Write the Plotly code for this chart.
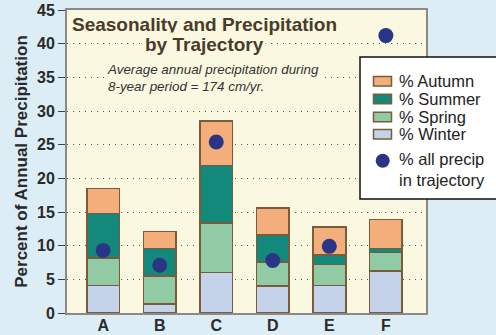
import plotly.graph_objects as go

categories = ["A", "B", "C", "D", "E", "F"]
winter = [4.1, 1.35, 6.0, 4.0, 4.1, 6.2]
spring = [4.1, 4.15, 7.4, 3.6, 3.1, 2.8]
summer = [6.6, 4.1, 8.5, 4.0, 1.4, 0.6]
autumn = [3.7, 2.5, 6.6, 4.0, 4.2, 4.3]
all_precip = [9.3, 7.1, 25.4, 7.8, 9.9, 41.2]

xpos = list(range(len(categories)))
outline = "#7a5c3a"
dot_color = "#2b3586"
series = [
    ("% Winter", winter, "#c4d2ea"),
    ("% Spring", spring, "#90cba5"),
    ("% Summer", summer, "#13897b"),
    ("% Autumn", autumn, "#f4ae7b"),
]

# plot-area geometry in pixels (layout only)
W, H = 496, 335
L, R, T, B = 67, 70, 10, 22
PW, PH = W - L - R, H - T - B


def px_x(px):
    return (px - L) / PW


def px_y(py):
    return (H - B - py) / PH


fig = go.Figure()
for name, vals, col in series:
    fig.add_trace(go.Bar(
        x=xpos, y=vals, name=name, width=0.58,
        marker=dict(color=col, line=dict(color=outline, width=1.6)),
    ))

fig.add_trace(go.Scatter(
    x=xpos, y=all_precip, mode="markers",
    name="% all precip in trajectory",
    marker=dict(color=dot_color, size=15, line=dict(width=0)),
))

cream = "#fbf8e1"
font_fam = "Liberation Sans, Arial, sans-serif"

shapes = []
annotations = [
    dict(text="<b>Seasonality and Precipitation</b>", xref="paper", yref="paper",
         x=px_x(204), y=px_y(24), xanchor="center", yanchor="middle",
         showarrow=False, font=dict(size=19, color="#4a3b2b")),
    dict(text="<b>by Trajectory</b>", xref="paper", yref="paper",
         x=px_x(204), y=px_y(44), xanchor="center", yanchor="middle",
         showarrow=False, font=dict(size=19, color="#4a3b2b"),
         bgcolor=cream, borderpad=1),
    dict(text="<i>Average annual precipitation during<br>8-year period = 174 cm/yr.</i>",
         xref="paper", yref="paper", x=px_x(104), y=px_y(78),
         xanchor="left", yanchor="middle", align="left",
         showarrow=False, font=dict(size=13.4, color="#333333"),
         bgcolor=cream, borderpad=2),
]

# hand-built legend (box, swatches, labels)
shapes.append(dict(type="rect", xref="paper", yref="paper",
                   x0=px_x(360), x1=px_x(520), y0=px_y(199), y1=px_y(57),
                   fillcolor="white", line=dict(color="#111111", width=1.5), layer="above"))
legend_rows = [series[3], series[2], series[1], series[0]]
row_y = [81.3, 99, 117, 134.3]
for (name, _, col), yy in zip(legend_rows, row_y):
    shapes.append(dict(type="rect", xref="paper", yref="paper",
                       x0=px_x(373.5), x1=px_x(391.5), y0=px_y(yy + 4.8), y1=px_y(yy - 4.8),
                       fillcolor=col, line=dict(color=outline, width=1.5), layer="above"))
    annotations.append(dict(text=name, xref="paper", yref="paper",
                            x=px_x(397), y=px_y(yy), xanchor="left", yanchor="middle",
                            showarrow=False, font=dict(size=16.5, color="#222222")))
shapes.append(dict(type="circle", xref="paper", yref="paper",
                   x0=px_x(375.7), x1=px_x(389.7), y0=px_y(167.7), y1=px_y(153.7),
                   fillcolor=dot_color, line=dict(width=0), layer="above"))
annotations.append(dict(text="% all precip<br>in trajectory", xref="paper", yref="paper",
                        x=px_x(397), y=px_y(169.5), xanchor="left", yanchor="middle",
                        align="left", showarrow=False,
                        font=dict(size=16.5, color="#222222")))

fig.update_layout(
    width=W, height=H,
    margin=dict(l=L, r=R, t=T, b=B, autoexpand=False),
    paper_bgcolor="#dcedf6",
    plot_bgcolor=cream,
    barmode="stack",
    font=dict(family=font_fam, color="#2a2a2a"),
    showlegend=False,
    shapes=shapes,
    annotations=annotations,
    xaxis=dict(
        range=[-0.64, 5.71], tickvals=xpos, ticktext=categories,
        showgrid=False, zeroline=False, ticks="", automargin=False,
        showline=True, mirror=True, linecolor="#8a8a8a", linewidth=2,
        ticklabelstandoff=-3,
        tickfont=dict(size=16, weight="bold", color="#2a2a2a"),
    ),
    yaxis=dict(
        range=[0, 45], dtick=5, tick0=0, automargin=False,
        showgrid=True, gridcolor="#555555", gridwidth=1.3, griddash="1px,5px",
        zeroline=False, ticks="outside", ticklen=7, tickcolor="#444444", tickwidth=1.3,
        showline=True, mirror=True, linecolor="#8a8a8a", linewidth=2,
        tickfont=dict(size=16, weight="bold", color="#2a2a2a"),
        title=dict(text="Percent of Annual Precipitation",
                   font=dict(size=17, weight="bold", color="#2a2a2a"), standoff=5),
    ),
)

fig.write_html(
    "out.html",
    config={"displayModeBar": False},
    post_script="document.body.style.margin='0';document.body.style.background='#dcedf6';",
)
